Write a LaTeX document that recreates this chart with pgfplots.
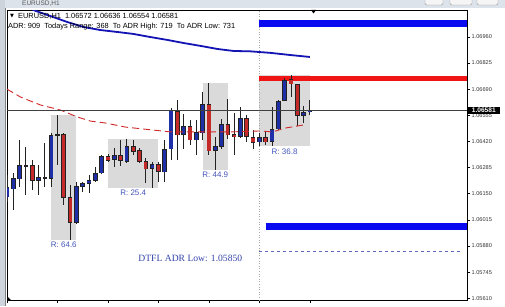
\documentclass[border=0pt]{standalone}
\usepackage{pgfplots}
\pgfplotsset{compat=1.18}
\usepackage{pgfplotstable}
\usepackage{fontspec}
\setmainfont{Liberation Sans}
\newfontfamily\serifface{Liberation Serif}
\newfontfamily\symface{DejaVu Sans}

\definecolor{bullblue}{HTML}{1F2FA8}
\definecolor{bearred}{HTML}{C42A2A}
\definecolor{edge}{HTML}{222222}
\definecolor{mablue}{HTML}{1414B4}
\definecolor{mared}{HTML}{D02828}
\definecolor{barblue}{HTML}{0A0AF0}
\definecolor{barred}{HTML}{F01414}
\definecolor{rangegray}{HTML}{DADADA}
\definecolor{labelblue}{HTML}{4455BB}
\definecolor{adrblue}{HTML}{3344AA}
\definecolor{chrome}{HTML}{DCE3EB}
\definecolor{tickgray}{HTML}{333333}

% EURUSD H1 candles: index, open, high, low, close
\pgfplotstableread{
i  o       h       l       c
0  1.06133 1.06247 1.06107 1.06185
1  1.06174 1.06257 1.06066 1.06231
2  1.06226 1.06427 1.06185 1.06298
3  1.06293 1.06391 1.06143 1.06296
5  1.06216 1.06298 1.06143 1.06236
6  1.06231 1.06412 1.06185 1.06233
7  1.06226 1.06463 1.06185 1.06453
8  1.06453 1.06557 1.06298 1.06458
11 1.05999 1.06210 1.05995 1.06190
12 1.06185 1.06210 1.06159 1.06205
13 1.06200 1.06247 1.06154 1.06221
14 1.06216 1.06288 1.06210 1.06257
15 1.06257 1.06350 1.06252 1.06345
17 1.06324 1.06386 1.06288 1.06350
19 1.06314 1.06434 1.06309 1.06396
23 1.06278 1.06314 1.06180 1.06303
25 1.06262 1.06427 1.06210 1.06381
26 1.06381 1.06593 1.06324 1.06582
28 1.06453 1.06562 1.06381 1.06500
30 1.06427 1.06531 1.06350 1.06469
31 1.06463 1.06675 1.06427 1.06613
33 1.06370 1.06443 1.06272 1.06396
34 1.06391 1.06536 1.06381 1.06510
37 1.06443 1.06598 1.06438 1.06541
40 1.06417 1.06463 1.06400 1.06443
42 1.06417 1.06598 1.06395 1.06484
43 1.06484 1.06634 1.06479 1.06629
44 1.06629 1.06747 1.06629 1.06737
47 1.06551 1.06603 1.06515 1.06572
48 1.06572 1.06636 1.06554 1.06581
}\bull

\pgfplotstableread{
i  o       h       l       c
4  1.06298 1.06324 1.06169 1.06216
9  1.06458 1.06463 1.06092 1.06128
10 1.06133 1.06195 1.05911 1.05999
16 1.06345 1.06355 1.06314 1.06319
18 1.06350 1.06427 1.06293 1.06319
20 1.06396 1.06427 1.06350 1.06365
21 1.06376 1.06386 1.06309 1.06314
22 1.06319 1.06334 1.06205 1.06278
24 1.06303 1.06314 1.06210 1.06262
27 1.06577 1.06634 1.06324 1.06453
29 1.06500 1.06531 1.06402 1.06427
32 1.06613 1.06721 1.06350 1.06370
35 1.06510 1.06639 1.06432 1.06453
36 1.06458 1.06567 1.06350 1.06443
38 1.06541 1.06556 1.06417 1.06443
39 1.06443 1.06479 1.06381 1.06412
41 1.06443 1.06469 1.06402 1.06417
45 1.06742 1.06763 1.06649 1.06716
46 1.06716 1.06718 1.06500 1.06551
}\bear

\pgfplotsset{
  wick/.style={draw=none, forget plot,
    error bars/.cd, y dir=both, y explicit, error mark=none,
    error bar style={draw=edge, line width=0.9pt}},
  body/.style={draw=none, forget plot,
    error bars/.cd, y dir=both, y explicit, error mark=none,
    error bar style={draw=#1, line width=4.6pt}},
  fillbody/.style={draw=none, forget plot,
    error bars/.cd, y dir=both, y explicit, error mark=none,
    error bar style={draw=#1, line width=3.2pt}},
}

\begin{document}
\begin{tikzpicture}
\useasboundingbox (0,0) rectangle (505pt,306pt);
% window chrome
\fill[chrome] (0,298pt) rectangle (505pt,306pt);
\fill[chrome!85!gray] (0,0) rectangle (4.5pt,306pt);
\draw[gray, line width=0.6pt] (5pt,0) -- (5pt,298pt);
\node[anchor=base west, inner sep=0pt, font=\fontsize{6.5}{7}\selectfont, text=gray!70!black] at (22pt,300pt) {EURUSD,H1};
\foreach \a/\b in {425/443,450/472,477/498}
  \draw[gray!80, fill=white!92!gray, rounded corners=1.5pt] (\a pt,301pt) rectangle (\b pt,312pt);

\begin{axis}[
  at={(7pt,6pt)}, anchor=south west,
  scale only axis, width=460pt, height=290pt,
  xmin=0, xmax=72.9,
  ymin=1.056012, ymax=1.070985,
  axis line style={black, line width=0.8pt},
  xtick={0,8,16,24,32,40,48}, xticklabels={},
  xtick pos=left, ytick pos=right,
  yticklabel pos=right,
  tick align=outside, major tick length=3pt,
  tick style={black, line width=0.6pt},
  ytick={1.05610,1.05745,1.05880,1.06015,1.06150,1.06285,1.06420,1.06555,1.06690,1.06825,1.06960},
  scaled y ticks=false,
  yticklabel style={font=\fontsize{5.6}{6}\selectfont, text=tickgray, inner sep=1.5pt,
    /pgf/number format/fixed, /pgf/number format/fixed zerofill,
    /pgf/number format/precision=5, /pgf/number format/assume math mode=true},
]
% range boxes
\addplot[fill=rangegray, draw=none, forget plot] coordinates {(7,1.06557) (11,1.06557) (11,1.05911) (7,1.05911)} -- cycle;
\addplot[fill=rangegray, draw=none, forget plot] coordinates {(16,1.06434) (24,1.06434) (24,1.06180) (16,1.06180)} -- cycle;
\addplot[fill=rangegray, draw=none, forget plot] coordinates {(31,1.06721) (35,1.06721) (35,1.06272) (31,1.06272)} -- cycle;
\addplot[fill=rangegray, draw=none, forget plot] coordinates {(40,1.06763) (48,1.06763) (48,1.06395) (40,1.06395)} -- cycle;

% day separator
\addplot[gray!70, dotted, line width=0.6pt, forget plot] coordinates {(40,1.0560) (40,1.0710)};

% ADR levels
\addplot[barblue, line width=7pt, forget plot] coordinates {(40,1.07031) (72.9,1.07031)};
\addplot[barred, line width=5pt, forget plot] coordinates {(40,1.06745) (72.9,1.06745)};
\addplot[barblue, line width=7pt, forget plot] coordinates {(41,1.05982) (72.9,1.05982)};
\addplot[adrblue!80, dashed, line width=0.7pt, forget plot] coordinates {(40,1.05850) (72.3,1.05850)};

% candles: wicks, outlines, fills
\addplot[wick] table[x=i, y expr={(\thisrow{h}+\thisrow{l})/2}, y error expr={(\thisrow{h}-\thisrow{l})/2}] {\bull};
\addplot[wick] table[x=i, y expr={(\thisrow{h}+\thisrow{l})/2}, y error expr={(\thisrow{h}-\thisrow{l})/2}] {\bear};
\addplot[body=edge] table[x=i, y expr={(\thisrow{o}+\thisrow{c})/2}, y error expr={max(abs(\thisrow{c}-\thisrow{o})/2,0.000018)}] {\bull};
\addplot[body=edge] table[x=i, y expr={(\thisrow{o}+\thisrow{c})/2}, y error expr={max(abs(\thisrow{c}-\thisrow{o})/2,0.000018)}] {\bear};
\addplot[fillbody=bullblue] table[x=i, y expr={(\thisrow{o}+\thisrow{c})/2}, y error expr={max(abs(\thisrow{c}-\thisrow{o})/2-0.000035,0)}] {\bull};
\addplot[fillbody=bearred] table[x=i, y expr={(\thisrow{o}+\thisrow{c})/2}, y error expr={max(abs(\thisrow{c}-\thisrow{o})/2-0.000035,0)}] {\bear};

% moving averages
\addplot[mablue, line width=1.8pt, forget plot] coordinates {
 (3.5,1.07115) (4.2,1.07098) (6.9,1.07067) (9.6,1.07036) (12.1,1.07011) (14.8,1.06995)
 (17.5,1.06985) (20.0,1.06975) (22.7,1.06959) (25.4,1.06944) (28.0,1.06928)
 (30.7,1.06913) (33.4,1.06897) (35.9,1.06887) (38.6,1.06885) (41.8,1.06877)
 (44.9,1.06866) (48,1.06856)};
\addplot[mared, line width=0.9pt, dash pattern=on 7pt off 4pt, forget plot] coordinates {
 (0,1.06690) (2.14,1.06649) (5.31,1.06608) (8.48,1.06582) (11.17,1.06546)
 (13.23,1.06525) (15.61,1.06515) (18.78,1.06494) (23.06,1.06479) (25.91,1.06469)
 (30.67,1.06469) (35.42,1.06469) (40.17,1.06474) (42.07,1.06469) (44.13,1.06489)
 (46.99,1.06505)};

% bid line
\addplot[black!75, line width=0.8pt, forget plot] coordinates {(0,1.06581) (72.9,1.06581)};
\coordinate (bid) at (axis cs:72.9,1.06581);

% range labels
\begin{scope}[every node/.style={font=\fontsize{8}{9}\selectfont, text=labelblue, anchor=north, inner sep=1pt, yshift=-1pt}]
\node at (axis cs:9,1.05911) {R: 64.6};
\node at (axis cs:20,1.06180) {R: 25.4};
\node at (axis cs:33,1.06272) {R: 44.9};
\node at (axis cs:44,1.06395) {R: 36.8};
\end{scope}
\node[anchor=west, inner sep=0pt, font=\serifface\fontsize{9.6}{11}\selectfont, text=adrblue] at (axis cs:20.8,1.05818) {DTFL ADR Low: 1.05850};
\end{axis}

% current price tag on the price scale
\node[anchor=west, fill=black, text=white, inner sep=0.6pt, minimum width=32pt, minimum height=7pt,
  font=\bfseries\fontsize{6.6}{7}\selectfont, xshift=0.6pt] at (bid) {1.06581};

% chart header
\node[anchor=west, inner sep=0pt, font=\symface\fontsize{5}{6}\selectfont] at (10pt,290pt) {▼};
\node[anchor=west, inner sep=0pt, font=\fontsize{7.4}{9}\selectfont] at (18pt,290pt) {EURUSD,H1\ \ 1.06572 1.06636 1.06554 1.06581};
\node[anchor=west, inner sep=0pt, font=\fontsize{7.4}{9}\selectfont] at (8pt,279pt) {ADR: 909\ \ Todays Range: 368\ \ To ADR High: 719\ \ To ADR Low: 731};
\fill[black] (311pt,296pt) -- (316pt,296pt) -- (313.5pt,292.5pt) -- cycle;
\fill[black] (7pt,6pt) -- (7pt,10pt) -- (11pt,6pt) -- cycle;
\end{tikzpicture}
\end{document}
